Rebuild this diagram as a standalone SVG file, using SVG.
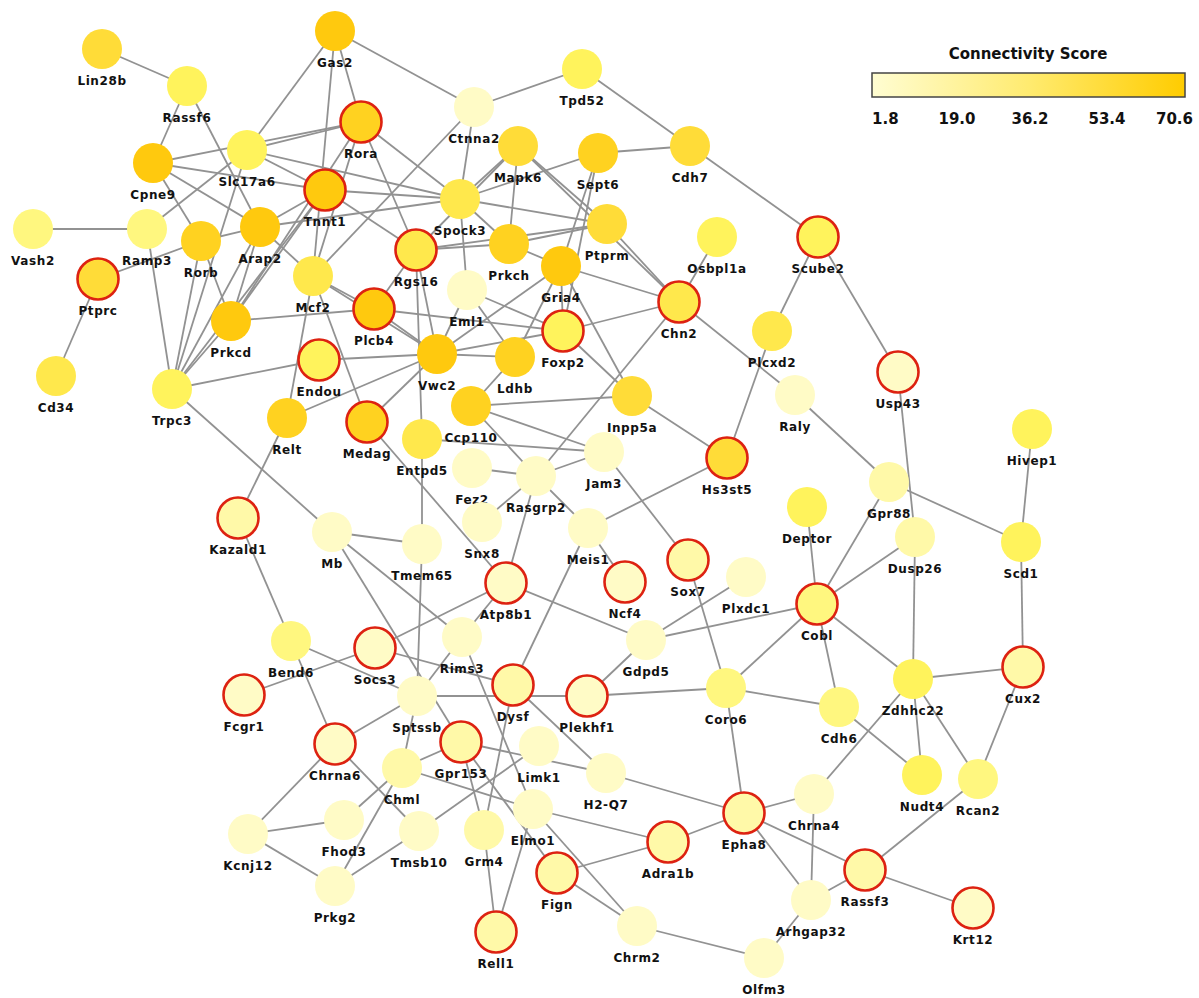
<svg xmlns="http://www.w3.org/2000/svg" width="1199" height="998" viewBox="0 0 1199 998">
<defs>
<linearGradient id="lg" x1="0" y1="0" x2="1" y2="0">
<stop offset="0" stop-color="#FFFDD2"/>
<stop offset="0.5" stop-color="#FFEB70"/>
<stop offset="1" stop-color="#FFCC00"/>
</linearGradient>
</defs>
<style>
.edges line{stroke:#929292;stroke-width:1.8;fill:none}
.node circle{stroke:none}
.node.hit circle{stroke:#DD2211;stroke-width:2.6}
.node text{font-family:"DejaVu Sans",Verdana,sans-serif;font-weight:bold;font-size:12px;letter-spacing:0.6px;fill:#111;text-anchor:middle}
.c1 circle{fill:#FFC90E}.c2 circle{fill:#FFD220}.c3 circle{fill:#FFDC38}.c4 circle{fill:#FFE84C}
.c5 circle{fill:#FFF35C}.c6 circle{fill:#FFF77F}.c7 circle{fill:#FFF9A8}.c8 circle{fill:#FFFBC6}
.leg{font-family:"DejaVu Sans",Verdana,sans-serif;font-weight:bold;fill:#111}
</style>
<rect width="1199" height="998" fill="#FFFFFF"/>
<g id="connectors" class="edges">
<line x1="102" y1="49" x2="187" y2="86"/>
<line x1="187" y1="86" x2="153" y2="163"/>
<line x1="187" y1="86" x2="260" y2="227"/>
<line x1="335" y1="31" x2="247" y2="150"/>
<line x1="335" y1="31" x2="313" y2="276"/>
<line x1="335" y1="31" x2="361" y2="122"/>
<line x1="335" y1="31" x2="474" y2="107"/>
<line x1="247" y1="150" x2="361" y2="122"/>
<line x1="153" y1="163" x2="361" y2="122"/>
<line x1="247" y1="150" x2="325" y2="190"/>
<line x1="247" y1="150" x2="460" y2="199"/>
<line x1="153" y1="163" x2="325" y2="190"/>
<line x1="153" y1="163" x2="260" y2="227"/>
<line x1="153" y1="163" x2="201" y2="241"/>
<line x1="147" y1="229" x2="247" y2="150"/>
<line x1="33" y1="229" x2="147" y2="229"/>
<line x1="147" y1="229" x2="172" y2="389"/>
<line x1="201" y1="241" x2="260" y2="227"/>
<line x1="201" y1="241" x2="231" y2="321"/>
<line x1="98" y1="279" x2="201" y2="241"/>
<line x1="98" y1="279" x2="56" y2="376"/>
<line x1="247" y1="150" x2="172" y2="389"/>
<line x1="201" y1="241" x2="172" y2="389"/>
<line x1="260" y1="227" x2="172" y2="389"/>
<line x1="260" y1="227" x2="231" y2="321"/>
<line x1="231" y1="321" x2="172" y2="389"/>
<line x1="325" y1="190" x2="231" y2="321"/>
<line x1="361" y1="122" x2="231" y2="321"/>
<line x1="325" y1="190" x2="172" y2="389"/>
<line x1="260" y1="227" x2="313" y2="276"/>
<line x1="260" y1="227" x2="460" y2="199"/>
<line x1="260" y1="227" x2="325" y2="190"/>
<line x1="361" y1="122" x2="313" y2="276"/>
<line x1="361" y1="122" x2="460" y2="199"/>
<line x1="361" y1="122" x2="416" y2="250"/>
<line x1="325" y1="190" x2="460" y2="199"/>
<line x1="325" y1="190" x2="416" y2="250"/>
<line x1="474" y1="107" x2="582" y2="69"/>
<line x1="474" y1="107" x2="460" y2="199"/>
<line x1="474" y1="107" x2="313" y2="276"/>
<line x1="582" y1="69" x2="690" y2="146"/>
<line x1="690" y1="146" x2="598" y2="153"/>
<line x1="690" y1="146" x2="818" y2="237"/>
<line x1="460" y1="199" x2="518" y2="146"/>
<line x1="460" y1="199" x2="598" y2="153"/>
<line x1="460" y1="199" x2="607" y2="224"/>
<line x1="460" y1="199" x2="509" y2="244"/>
<line x1="460" y1="199" x2="467" y2="290"/>
<line x1="518" y1="146" x2="416" y2="250"/>
<line x1="518" y1="146" x2="509" y2="244"/>
<line x1="518" y1="146" x2="607" y2="224"/>
<line x1="518" y1="146" x2="679" y2="302"/>
<line x1="598" y1="153" x2="561" y2="266"/>
<line x1="598" y1="153" x2="563" y2="331"/>
<line x1="509" y1="244" x2="416" y2="250"/>
<line x1="509" y1="244" x2="607" y2="224"/>
<line x1="416" y1="250" x2="607" y2="224"/>
<line x1="509" y1="244" x2="561" y2="266"/>
<line x1="607" y1="224" x2="679" y2="302"/>
<line x1="561" y1="266" x2="679" y2="302"/>
<line x1="561" y1="266" x2="563" y2="331"/>
<line x1="561" y1="266" x2="632" y2="396"/>
<line x1="561" y1="266" x2="437" y2="354"/>
<line x1="515" y1="357" x2="561" y2="266"/>
<line x1="679" y1="302" x2="717" y2="237"/>
<line x1="679" y1="302" x2="563" y2="331"/>
<line x1="679" y1="302" x2="536" y2="476"/>
<line x1="679" y1="302" x2="795" y2="395"/>
<line x1="795" y1="395" x2="889" y2="482"/>
<line x1="818" y1="237" x2="772" y2="331"/>
<line x1="818" y1="237" x2="898" y2="372"/>
<line x1="772" y1="331" x2="727" y2="458"/>
<line x1="898" y1="372" x2="915" y2="537"/>
<line x1="416" y1="250" x2="374" y2="309"/>
<line x1="416" y1="250" x2="437" y2="354"/>
<line x1="416" y1="250" x2="422" y2="439"/>
<line x1="313" y1="276" x2="374" y2="309"/>
<line x1="313" y1="276" x2="437" y2="354"/>
<line x1="374" y1="309" x2="437" y2="354"/>
<line x1="231" y1="321" x2="374" y2="309"/>
<line x1="374" y1="309" x2="563" y2="331"/>
<line x1="313" y1="276" x2="287" y2="418"/>
<line x1="313" y1="276" x2="367" y2="422"/>
<line x1="319" y1="360" x2="172" y2="389"/>
<line x1="319" y1="360" x2="437" y2="354"/>
<line x1="287" y1="418" x2="437" y2="354"/>
<line x1="367" y1="422" x2="437" y2="354"/>
<line x1="437" y1="354" x2="467" y2="290"/>
<line x1="437" y1="354" x2="515" y2="357"/>
<line x1="437" y1="354" x2="563" y2="331"/>
<line x1="467" y1="290" x2="515" y2="357"/>
<line x1="467" y1="290" x2="563" y2="331"/>
<line x1="563" y1="331" x2="632" y2="396"/>
<line x1="471" y1="406" x2="632" y2="396"/>
<line x1="471" y1="406" x2="604" y2="452"/>
<line x1="471" y1="406" x2="536" y2="476"/>
<line x1="471" y1="406" x2="515" y2="357"/>
<line x1="422" y1="439" x2="604" y2="452"/>
<line x1="422" y1="439" x2="422" y2="544"/>
<line x1="632" y1="396" x2="727" y2="458"/>
<line x1="536" y1="476" x2="472" y2="468"/>
<line x1="536" y1="476" x2="604" y2="452"/>
<line x1="536" y1="476" x2="482" y2="522"/>
<line x1="536" y1="476" x2="506" y2="583"/>
<line x1="536" y1="476" x2="588" y2="528"/>
<line x1="604" y1="452" x2="688" y2="560"/>
<line x1="727" y1="458" x2="588" y2="528"/>
<line x1="172" y1="389" x2="332" y2="532"/>
<line x1="287" y1="418" x2="238" y2="518"/>
<line x1="367" y1="422" x2="506" y2="583"/>
<line x1="238" y1="518" x2="291" y2="641"/>
<line x1="332" y1="532" x2="422" y2="544"/>
<line x1="332" y1="532" x2="462" y2="637"/>
<line x1="332" y1="532" x2="461" y2="742"/>
<line x1="422" y1="544" x2="417" y2="696"/>
<line x1="588" y1="528" x2="513" y2="685"/>
<line x1="588" y1="528" x2="625" y2="582"/>
<line x1="506" y1="583" x2="646" y2="640"/>
<line x1="506" y1="583" x2="375" y2="648"/>
<line x1="506" y1="583" x2="462" y2="637"/>
<line x1="889" y1="482" x2="1021" y2="542"/>
<line x1="889" y1="482" x2="817" y2="604"/>
<line x1="1032" y1="429" x2="1021" y2="542"/>
<line x1="1021" y1="542" x2="1023" y2="667"/>
<line x1="807" y1="507" x2="817" y2="604"/>
<line x1="915" y1="537" x2="817" y2="604"/>
<line x1="915" y1="537" x2="913" y2="679"/>
<line x1="688" y1="560" x2="726" y2="688"/>
<line x1="746" y1="577" x2="646" y2="640"/>
<line x1="817" y1="604" x2="646" y2="640"/>
<line x1="817" y1="604" x2="726" y2="688"/>
<line x1="817" y1="604" x2="839" y2="707"/>
<line x1="817" y1="604" x2="913" y2="679"/>
<line x1="646" y1="640" x2="587" y2="696"/>
<line x1="291" y1="641" x2="417" y2="696"/>
<line x1="291" y1="641" x2="335" y2="744"/>
<line x1="244" y1="695" x2="375" y2="648"/>
<line x1="375" y1="648" x2="513" y2="685"/>
<line x1="462" y1="637" x2="417" y2="696"/>
<line x1="462" y1="637" x2="533" y2="809"/>
<line x1="417" y1="696" x2="587" y2="696"/>
<line x1="417" y1="696" x2="402" y2="768"/>
<line x1="335" y1="744" x2="417" y2="696"/>
<line x1="513" y1="685" x2="606" y2="773"/>
<line x1="513" y1="685" x2="484" y2="830"/>
<line x1="587" y1="696" x2="726" y2="688"/>
<line x1="726" y1="688" x2="839" y2="707"/>
<line x1="726" y1="688" x2="744" y2="813"/>
<line x1="913" y1="679" x2="1023" y2="667"/>
<line x1="913" y1="679" x2="922" y2="775"/>
<line x1="913" y1="679" x2="978" y2="779"/>
<line x1="913" y1="679" x2="814" y2="794"/>
<line x1="839" y1="707" x2="922" y2="775"/>
<line x1="1023" y1="667" x2="978" y2="779"/>
<line x1="335" y1="744" x2="248" y2="834"/>
<line x1="335" y1="744" x2="419" y2="831"/>
<line x1="402" y1="768" x2="461" y2="742"/>
<line x1="402" y1="768" x2="533" y2="809"/>
<line x1="402" y1="768" x2="344" y2="820"/>
<line x1="402" y1="768" x2="335" y2="886"/>
<line x1="461" y1="742" x2="606" y2="773"/>
<line x1="461" y1="742" x2="484" y2="830"/>
<line x1="461" y1="742" x2="557" y2="873"/>
<line x1="539" y1="746" x2="419" y2="831"/>
<line x1="248" y1="834" x2="344" y2="820"/>
<line x1="248" y1="834" x2="335" y2="886"/>
<line x1="335" y1="886" x2="419" y2="831"/>
<line x1="484" y1="830" x2="496" y2="932"/>
<line x1="533" y1="809" x2="496" y2="932"/>
<line x1="533" y1="809" x2="668" y2="842"/>
<line x1="533" y1="809" x2="637" y2="926"/>
<line x1="557" y1="873" x2="637" y2="926"/>
<line x1="557" y1="873" x2="668" y2="842"/>
<line x1="606" y1="773" x2="744" y2="813"/>
<line x1="744" y1="813" x2="668" y2="842"/>
<line x1="744" y1="813" x2="814" y2="794"/>
<line x1="744" y1="813" x2="865" y2="870"/>
<line x1="744" y1="813" x2="811" y2="900"/>
<line x1="814" y1="794" x2="811" y2="900"/>
<line x1="811" y1="900" x2="865" y2="870"/>
<line x1="811" y1="900" x2="764" y2="958"/>
<line x1="637" y1="926" x2="764" y2="958"/>
<line x1="865" y1="870" x2="973" y2="908"/>
<line x1="865" y1="870" x2="978" y2="779"/>
</g>
<g id="nodes">
<g id="n-Lin28b" class="node c3"><circle cx="102" cy="49" r="20"/><text x="102" y="85">Lin28b</text></g>
<g id="n-Rassf6" class="node c5"><circle cx="187" cy="86" r="20"/><text x="187" y="122">Rassf6</text></g>
<g id="n-Gas2" class="node c1"><circle cx="335" cy="31" r="20"/><text x="335" y="67">Gas2</text></g>
<g id="n-Rora" class="node hit c2"><circle cx="361" cy="122" r="20.5"/><text x="361" y="158">Rora</text></g>
<g id="n-Slc17a6" class="node c5"><circle cx="247" cy="150" r="20"/><text x="247" y="186">Slc17a6</text></g>
<g id="n-Cpne9" class="node c1"><circle cx="153" cy="163" r="20"/><text x="153" y="199">Cpne9</text></g>
<g id="n-Tnnt1" class="node hit c1"><circle cx="325" cy="190" r="20.5"/><text x="325" y="226">Tnnt1</text></g>
<g id="n-Vash2" class="node c6"><circle cx="33" cy="229" r="20"/><text x="33" y="265">Vash2</text></g>
<g id="n-Ramp3" class="node c6"><circle cx="147" cy="229" r="20"/><text x="147" y="265">Ramp3</text></g>
<g id="n-Rorb" class="node c2"><circle cx="201" cy="241" r="20"/><text x="201" y="277">Rorb</text></g>
<g id="n-Arap2" class="node c1"><circle cx="260" cy="227" r="20"/><text x="260" y="263">Arap2</text></g>
<g id="n-Ptprc" class="node hit c3"><circle cx="98" cy="279" r="20.5"/><text x="98" y="315">Ptprc</text></g>
<g id="n-Mcf2" class="node c4"><circle cx="313" cy="276" r="20"/><text x="313" y="312">Mcf2</text></g>
<g id="n-Tpd52" class="node c5"><circle cx="582" cy="69" r="20"/><text x="582" y="105">Tpd52</text></g>
<g id="n-Ctnna2" class="node c8"><circle cx="474" cy="107" r="20"/><text x="474" y="143">Ctnna2</text></g>
<g id="n-Mapk6" class="node c3"><circle cx="518" cy="146" r="20"/><text x="518" y="182">Mapk6</text></g>
<g id="n-Sept6" class="node c2"><circle cx="598" cy="153" r="20"/><text x="598" y="189">Sept6</text></g>
<g id="n-Cdh7" class="node c3"><circle cx="690" cy="146" r="20"/><text x="690" y="182">Cdh7</text></g>
<g id="n-Spock3" class="node c4"><circle cx="460" cy="199" r="20"/><text x="460" y="235">Spock3</text></g>
<g id="n-Ptprm" class="node c3"><circle cx="607" cy="224" r="20"/><text x="607" y="260">Ptprm</text></g>
<g id="n-Prkch" class="node c2"><circle cx="509" cy="244" r="20"/><text x="509" y="280">Prkch</text></g>
<g id="n-Rgs16" class="node hit c4"><circle cx="416" cy="250" r="20.5"/><text x="416" y="286">Rgs16</text></g>
<g id="n-Gria4" class="node c1"><circle cx="561" cy="266" r="20"/><text x="561" y="302">Gria4</text></g>
<g id="n-Eml1" class="node c8"><circle cx="467" cy="290" r="20"/><text x="467" y="326">Eml1</text></g>
<g id="n-Chn2" class="node hit c4"><circle cx="679" cy="302" r="20.5"/><text x="679" y="338">Chn2</text></g>
<g id="n-Osbpl1a" class="node c5"><circle cx="717" cy="237" r="20"/><text x="717" y="273">Osbpl1a</text></g>
<g id="n-Scube2" class="node hit c5"><circle cx="818" cy="237" r="20.5"/><text x="818" y="273">Scube2</text></g>
<g id="n-Plcxd2" class="node c4"><circle cx="772" cy="331" r="20"/><text x="772" y="367">Plcxd2</text></g>
<g id="n-Usp43" class="node hit c8"><circle cx="898" cy="372" r="20.5"/><text x="898" y="408">Usp43</text></g>
<g id="n-Raly" class="node c8"><circle cx="795" cy="395" r="20"/><text x="795" y="431">Raly</text></g>
<g id="n-Prkcd" class="node c1"><circle cx="231" cy="321" r="20"/><text x="231" y="357">Prkcd</text></g>
<g id="n-Plcb4" class="node hit c1"><circle cx="374" cy="309" r="20.5"/><text x="374" y="345">Plcb4</text></g>
<g id="n-Endou" class="node hit c5"><circle cx="319" cy="360" r="20.5"/><text x="319" y="396">Endou</text></g>
<g id="n-Vwc2" class="node c1"><circle cx="437" cy="354" r="20"/><text x="437" y="390">Vwc2</text></g>
<g id="n-Ldhb" class="node c2"><circle cx="515" cy="357" r="20"/><text x="515" y="393">Ldhb</text></g>
<g id="n-Foxp2" class="node hit c5"><circle cx="563" cy="331" r="20.5"/><text x="563" y="367">Foxp2</text></g>
<g id="n-Inpp5a" class="node c3"><circle cx="632" cy="396" r="20"/><text x="632" y="432">Inpp5a</text></g>
<g id="n-Cd34" class="node c4"><circle cx="56" cy="376" r="20"/><text x="56" y="412">Cd34</text></g>
<g id="n-Trpc3" class="node c5"><circle cx="172" cy="389" r="20"/><text x="172" y="425">Trpc3</text></g>
<g id="n-Relt" class="node c2"><circle cx="287" cy="418" r="20"/><text x="287" y="454">Relt</text></g>
<g id="n-Medag" class="node hit c2"><circle cx="367" cy="422" r="20.5"/><text x="367" y="458">Medag</text></g>
<g id="n-Ccp110" class="node c2"><circle cx="471" cy="406" r="20"/><text x="471" y="442">Ccp110</text></g>
<g id="n-Entpd5" class="node c4"><circle cx="422" cy="439" r="20"/><text x="422" y="475">Entpd5</text></g>
<g id="n-Fez2" class="node c8"><circle cx="472" cy="468" r="20"/><text x="472" y="504">Fez2</text></g>
<g id="n-Jam3" class="node c8"><circle cx="604" cy="452" r="20"/><text x="604" y="488">Jam3</text></g>
<g id="n-Rasgrp2" class="node c8"><circle cx="536" cy="476" r="20"/><text x="536" y="512">Rasgrp2</text></g>
<g id="n-Hs3st5" class="node hit c3"><circle cx="727" cy="458" r="20.5"/><text x="727" y="494">Hs3st5</text></g>
<g id="n-Hivep1" class="node c5"><circle cx="1032" cy="429" r="20"/><text x="1032" y="465">Hivep1</text></g>
<g id="n-Gpr88" class="node c7"><circle cx="889" cy="482" r="20"/><text x="889" y="518">Gpr88</text></g>
<g id="n-Deptor" class="node c5"><circle cx="807" cy="507" r="20"/><text x="807" y="543">Deptor</text></g>
<g id="n-Dusp26" class="node c7"><circle cx="915" cy="537" r="20"/><text x="915" y="573">Dusp26</text></g>
<g id="n-Scd1" class="node c5"><circle cx="1021" cy="542" r="20"/><text x="1021" y="578">Scd1</text></g>
<g id="n-Kazald1" class="node hit c7"><circle cx="238" cy="518" r="20.5"/><text x="238" y="554">Kazald1</text></g>
<g id="n-Mb" class="node c8"><circle cx="332" cy="532" r="20"/><text x="332" y="568">Mb</text></g>
<g id="n-Tmem65" class="node c8"><circle cx="422" cy="544" r="20"/><text x="422" y="580">Tmem65</text></g>
<g id="n-Snx8" class="node c8"><circle cx="482" cy="522" r="20"/><text x="482" y="558">Snx8</text></g>
<g id="n-Meis1" class="node c8"><circle cx="588" cy="528" r="20"/><text x="588" y="564">Meis1</text></g>
<g id="n-Atp8b1" class="node hit c8"><circle cx="506" cy="583" r="20.5"/><text x="506" y="619">Atp8b1</text></g>
<g id="n-Ncf4" class="node hit c8"><circle cx="625" cy="582" r="20.5"/><text x="625" y="618">Ncf4</text></g>
<g id="n-Sox7" class="node hit c7"><circle cx="688" cy="560" r="20.5"/><text x="688" y="596">Sox7</text></g>
<g id="n-Plxdc1" class="node c8"><circle cx="746" cy="577" r="20"/><text x="746" y="613">Plxdc1</text></g>
<g id="n-Cobl" class="node hit c6"><circle cx="817" cy="604" r="20.5"/><text x="817" y="640">Cobl</text></g>
<g id="n-Gdpd5" class="node c8"><circle cx="646" cy="640" r="20"/><text x="646" y="676">Gdpd5</text></g>
<g id="n-Bend6" class="node c6"><circle cx="291" cy="641" r="20"/><text x="291" y="677">Bend6</text></g>
<g id="n-Socs3" class="node hit c8"><circle cx="375" cy="648" r="20.5"/><text x="375" y="684">Socs3</text></g>
<g id="n-Rims3" class="node c8"><circle cx="462" cy="637" r="20"/><text x="462" y="673">Rims3</text></g>
<g id="n-Fcgr1" class="node hit c8"><circle cx="244" cy="695" r="20.5"/><text x="244" y="731">Fcgr1</text></g>
<g id="n-Sptssb" class="node c8"><circle cx="417" cy="696" r="20"/><text x="417" y="732">Sptssb</text></g>
<g id="n-Dysf" class="node hit c7"><circle cx="513" cy="685" r="20.5"/><text x="513" y="721">Dysf</text></g>
<g id="n-Plekhf1" class="node hit c8"><circle cx="587" cy="696" r="20.5"/><text x="587" y="732">Plekhf1</text></g>
<g id="n-Coro6" class="node c6"><circle cx="726" cy="688" r="20"/><text x="726" y="724">Coro6</text></g>
<g id="n-Zdhhc22" class="node c5"><circle cx="913" cy="679" r="20"/><text x="913" y="715">Zdhhc22</text></g>
<g id="n-Cux2" class="node hit c7"><circle cx="1023" cy="667" r="20.5"/><text x="1023" y="703">Cux2</text></g>
<g id="n-Cdh6" class="node c6"><circle cx="839" cy="707" r="20"/><text x="839" y="743">Cdh6</text></g>
<g id="n-Chrna6" class="node hit c8"><circle cx="335" cy="744" r="20.5"/><text x="335" y="780">Chrna6</text></g>
<g id="n-Chml" class="node c7"><circle cx="402" cy="768" r="20"/><text x="402" y="804">Chml</text></g>
<g id="n-Gpr153" class="node hit c7"><circle cx="461" cy="742" r="20.5"/><text x="461" y="778">Gpr153</text></g>
<g id="n-Limk1" class="node c8"><circle cx="539" cy="746" r="20"/><text x="539" y="782">Limk1</text></g>
<g id="n-H2-Q7" class="node c8"><circle cx="606" cy="773" r="20"/><text x="606" y="809">H2-Q7</text></g>
<g id="n-Elmo1" class="node c8"><circle cx="533" cy="809" r="20"/><text x="533" y="845">Elmo1</text></g>
<g id="n-Kcnj12" class="node c8"><circle cx="248" cy="834" r="20"/><text x="248" y="870">Kcnj12</text></g>
<g id="n-Fhod3" class="node c8"><circle cx="344" cy="820" r="20"/><text x="344" y="856">Fhod3</text></g>
<g id="n-Tmsb10" class="node c8"><circle cx="419" cy="831" r="20"/><text x="419" y="867">Tmsb10</text></g>
<g id="n-Grm4" class="node c7"><circle cx="484" cy="830" r="20"/><text x="484" y="866">Grm4</text></g>
<g id="n-Chrna4" class="node c8"><circle cx="814" cy="794" r="20"/><text x="814" y="830">Chrna4</text></g>
<g id="n-Epha8" class="node hit c7"><circle cx="744" cy="813" r="20.5"/><text x="744" y="849">Epha8</text></g>
<g id="n-Adra1b" class="node hit c7"><circle cx="668" cy="842" r="20.5"/><text x="668" y="878">Adra1b</text></g>
<g id="n-Nudt4" class="node c5"><circle cx="922" cy="775" r="20"/><text x="922" y="811">Nudt4</text></g>
<g id="n-Rcan2" class="node c6"><circle cx="978" cy="779" r="20"/><text x="978" y="815">Rcan2</text></g>
<g id="n-Fign" class="node hit c7"><circle cx="557" cy="873" r="20.5"/><text x="557" y="909">Fign</text></g>
<g id="n-Prkg2" class="node c8"><circle cx="335" cy="886" r="20"/><text x="335" y="922">Prkg2</text></g>
<g id="n-Rell1" class="node hit c7"><circle cx="496" cy="932" r="20.5"/><text x="496" y="968">Rell1</text></g>
<g id="n-Rassf3" class="node hit c7"><circle cx="865" cy="870" r="20.5"/><text x="865" y="906">Rassf3</text></g>
<g id="n-Arhgap32" class="node c8"><circle cx="811" cy="900" r="20"/><text x="811" y="936">Arhgap32</text></g>
<g id="n-Krt12" class="node hit c8"><circle cx="973" cy="908" r="20.5"/><text x="973" y="944">Krt12</text></g>
<g id="n-Chrm2" class="node c8"><circle cx="637" cy="926" r="20"/><text x="637" y="962">Chrm2</text></g>
<g id="n-Olfm3" class="node c8"><circle cx="764" cy="958" r="20"/><text x="764" y="994">Olfm3</text></g>
</g>
<g id="legend">
<text class="leg" x="1028" y="59" font-size="15" text-anchor="middle">Connectivity Score</text>
<rect x="872" y="73" width="313" height="24" fill="url(#lg)" stroke="#444" stroke-width="1.5"/>
<text class="leg" x="872" y="124" font-size="15">1.8</text>
<text class="leg" x="957" y="124" font-size="15" text-anchor="middle">19.0</text>
<text class="leg" x="1030" y="124" font-size="15" text-anchor="middle">36.2</text>
<text class="leg" x="1107" y="124" font-size="15" text-anchor="middle">53.4</text>
<text class="leg" x="1193" y="124" font-size="15" text-anchor="end">70.6</text>
</g>
</svg>
